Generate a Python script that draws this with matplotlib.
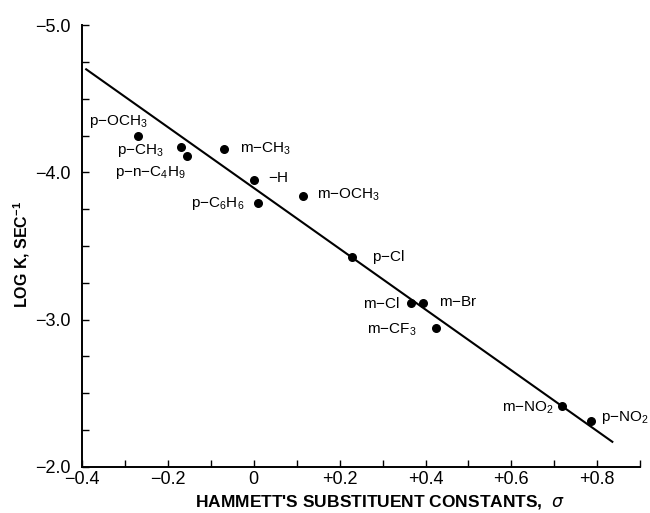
import matplotlib

matplotlib.use("Agg")
import matplotlib.pyplot as plt
from matplotlib.ticker import FixedLocator, MultipleLocator

plt.rcParams.update({
    "font.family": ["Liberation Sans Narrow", "Liberation Sans", "DejaVu Sans"],
    "mathtext.default": "regular",
    "axes.linewidth": 1.4,
})

# substituent, sigma, log k
names = ["p-OCH3", "p-CH3", "p-n-C4H9", "m-CH3", "-H", "p-C6H6", "m-OCH3",
         "p-Cl", "m-Cl", "m-Br", "m-CF3", "m-NO2", "p-NO2"]
sigma = [-0.27, -0.17, -0.155, -0.07, 0.0, 0.01, 0.115,
         0.228, 0.367, 0.395, 0.425, 0.717, 0.785]
logk = [-4.25, -4.17, -4.11, -4.16, -3.95, -3.79, -3.84,
        -3.425, -3.11, -3.11, -2.94, -2.41, -2.31]

# least-squares line as drawn
fit_x = [-0.39, 0.835]
fit_y = [-4.70, -2.17]

labels = {
    "p-OCH3": r"p$-$OCH$_3$",
    "p-CH3": r"p$-$CH$_3$",
    "p-n-C4H9": r"p$-$n$-$C$_4$H$_9$",
    "m-CH3": r"m$-$CH$_3$",
    "-H": r"$-$H",
    "p-C6H6": r"p$-$C$_6$H$_6$",
    "m-OCH3": r"m$-$OCH$_3$",
    "p-Cl": r"p$-$Cl",
    "m-Cl": r"m$-$Cl",
    "m-Br": r"m$-$Br",
    "m-CF3": r"m$-$CF$_3$",
    "m-NO2": r"m$-$NO$_2$",
    "p-NO2": r"p$-$NO$_2$",
}
# label offsets in points (dx, dy)
offsets = {
    "p-OCH3": (-35, 10),
    "p-CH3": (-46, -2),
    "p-n-C4H9": (-52, -12),
    "m-CH3": (12, 0),
    "-H": (10, 1),
    "p-C6H6": (-48, 0),
    "m-OCH3": (10, 1),
    "p-Cl": (15, 0),
    "m-Cl": (-35, 0),
    "m-Br": (11, 1),
    "m-CF3": (-50, -1),
    "m-NO2": (-43, -1),
    "p-NO2": (7, 3),
}

fig = plt.figure(figsize=(6.5, 5.13), dpi=100)
ax = fig.add_axes([0.126, 0.090, 0.859, 0.861])

ax.plot(fit_x, fit_y, color="black", lw=1.5)
ax.scatter(sigma, logk, s=30, color="black", zorder=3)

for n, x, y in zip(names, sigma, logk):
    dx, dy = offsets[n]
    ax.annotate(labels[n], (x, y), xytext=(dx, dy), textcoords="offset points",
                ha="left", va="center", fontsize=11)

ax.set_xlim(-0.4, 0.9)
ax.set_ylim(-2.0, -5.0)
ax.spines["top"].set_visible(False)
ax.spines["right"].set_visible(False)

xt = [-0.4, -0.2, 0.0, 0.2, 0.4, 0.6, 0.8]
xtl = ["\u22120.4", "\u22120.2", "0", "+0.2", "+0.4", "+0.6", "+0.8"]
ax.xaxis.set_major_locator(FixedLocator(xt))
ax.set_xticklabels(xtl, family=["Liberation Sans", "DejaVu Sans"])
ax.xaxis.set_minor_locator(MultipleLocator(0.1))

yt = [-5.0, -4.0, -3.0, -2.0]
ytl = ["\u22125.0", "\u22124.0", "\u22123.0", "\u22122.0"]
ax.yaxis.set_major_locator(FixedLocator(yt))
ax.set_yticklabels(ytl, family=["Liberation Sans", "DejaVu Sans"])
ax.yaxis.set_minor_locator(MultipleLocator(0.25))

ax.tick_params(which="both", direction="in", length=5, width=1.0)
ax.tick_params(axis="x", labelsize=13, pad=3)
ax.tick_params(axis="y", labelsize=13, pad=8)

ax.set_xlabel("HAMMETT'S SUBSTITUENT CONSTANTS,  $\\it{\\sigma}$",
              fontsize=12.5, fontweight="bold",
              family=["Liberation Sans", "DejaVu Sans"])
ax.xaxis.set_label_coords(0.533, -0.06)
ax.set_ylabel("LOG K, SEC$^{-1}$", fontsize=11.5, fontweight="bold",
              family=["Liberation Sans", "DejaVu Sans"])
ax.yaxis.set_label_coords(-0.09, 0.48)

fig.savefig("out.png", dpi=100)
